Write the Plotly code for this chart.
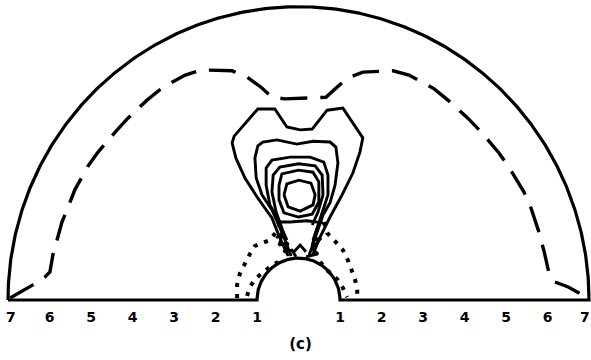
import numpy as np
import plotly.graph_objects as go

# Domain: half-annulus between r = 1 and r = 7
r_inner = 1.0
r_outer = 7.0

# Tick labels along the base line
tick_x = [-7, -6, -5, -4, -3, -2, -1, 1, 2, 3, 4, 5, 6, 7]
tick_text = ["7", "6", "5", "4", "3", "2", "1", "1", "2", "3", "4", "5", "6", "7"]
panel_label = "(c)"

# Dashed contour (outer level)
dash_x = [-6.95, -6.40, -6.11, -5.99, -5.92, -5.82, -5.70, -5.55, -5.39, -5.07, -4.83,
          -4.37, -4.11, -3.65, -3.29, -2.73, -2.33, -1.60, -1.24, -0.88, -0.64, -0.33,
          0.0, 0.33, 0.66, 0.93, 1.19, 1.55, 2.28, 2.66, 3.27, 3.60, 4.08, 4.40, 4.83,
          5.07, 5.43, 5.60, 5.80, 5.92, 6.04, 6.18, 6.50, 6.97]
dash_y = [0.05, 0.36, 0.55, 0.67, 1.07, 1.43, 1.86, 2.22, 2.63, 3.20, 3.53,
          4.06, 4.34, 4.77, 5.06, 5.37, 5.49, 5.47, 5.32, 5.06, 4.84, 4.80,
          4.82, 4.82, 4.84, 5.08, 5.30, 5.44, 5.47, 5.37, 5.04, 4.77, 4.34, 4.01, 3.51,
          3.17, 2.58, 2.20, 1.60, 1.15, 0.62, 0.43, 0.31, 0.05]

# Solid contours (open, ending on the inner boundary)
c1_x = [-0.25, -0.45, -0.64, -0.98, -1.29, -1.51, -1.60, -1.55, -0.98, -0.57, -0.28, 0.04,
        0.33, 0.69, 1.07, 1.55, 1.48, 1.31, 1.05, 0.76, 0.52, 0.33]
c1_y = [1.05, 1.48, 1.96, 2.43, 2.91, 3.39, 3.75, 3.91, 4.56, 4.56, 4.13, 4.06,
        4.08, 4.53, 4.58, 3.87, 3.53, 3.03, 2.51, 1.98, 1.50, 1.05]

c2_x = [-0.18, -0.37, -0.64, -0.88, -1.02, -1.05, -0.98, -0.86, -0.52, -0.04, 0.35, 0.76,
        0.90, 0.95, 0.88, 0.76, 0.59, 0.42, 0.25]
c2_y = [1.05, 1.55, 2.15, 2.51, 2.91, 3.39, 3.68, 3.77, 3.82, 3.72, 3.79, 3.77,
        3.65, 3.27, 2.74, 2.32, 2.03, 1.55, 1.05]

c3_x = [-0.28, -0.49, -0.69, -0.78, -0.78, -0.64, -0.20, 0.28, 0.61, 0.71, 0.71, 0.59, 0.45, 0.33]
c3_y = [1.43, 1.91, 2.27, 2.74, 3.15, 3.34, 3.41, 3.41, 3.29, 2.98, 2.51, 2.15, 1.72, 1.31]

c4_x = [-0.40, -0.54, -0.64, -0.61, -0.45, 0.0, 0.40, 0.57, 0.59, 0.47, 0.33]
c4_y = [1.72, 2.10, 2.58, 2.98, 3.17, 3.25, 3.20, 2.98, 2.51, 2.10, 1.79]

# Closed rings around the maximum
c5_x = [-0.47, -0.40, 0.0, 0.35, 0.49, 0.49, 0.33, 0.0, -0.35, -0.47, -0.47]
c5_y = [2.74, 3.01, 3.10, 3.05, 2.82, 2.34, 2.05, 1.98, 2.08, 2.39, 2.74]

c6_x = [-0.35, -0.28, 0.01, 0.30, 0.40, 0.35, 0.04, -0.25, -0.35]
c6_y = [2.51, 2.77, 2.86, 2.79, 2.51, 2.27, 2.12, 2.22, 2.51]

# Cap joining the legs below the rings
cap_x = [-0.52, -0.20, 0.20, 0.59]
cap_y = [1.86, 1.86, 1.89, 1.84]

# Irregular small-scale contours next to the inner boundary
w1_x = [-0.54, -0.37, -0.47, -0.25, -0.35, -0.16, -0.06]
w1_y = [1.48, 1.62, 1.31, 1.36, 1.15, 1.19, 1.03]
w2_x = [0.47, 0.35, 0.54, 0.33, 0.47, 0.18]
w2_y = [1.77, 1.43, 1.48, 1.22, 1.10, 1.03]
w3_x = [-0.11, 0.04, 0.18]
w3_y = [1.15, 1.31, 1.15]

# Dotted (negative) contours
d1_x = [-1.48, -1.48, -1.41, -1.29, -1.17, -1.05, -0.86, -0.69, -0.54, -0.45]
d1_y = [0.05, 0.36, 0.64, 0.88, 1.10, 1.29, 1.36, 1.43, 1.62, 1.79]
d2_x = [-1.24, -1.17, -1.05, -0.88, -0.69, -0.49]
d2_y = [0.10, 0.31, 0.50, 0.64, 0.79, 0.91]
d3_x = [0.52, 0.71, 0.93, 1.07, 1.17]
d3_y = [0.91, 0.69, 0.50, 0.29, 0.07]
d4_x = [0.61, 0.69, 0.90, 1.07, 1.19, 1.29, 1.36, 1.41, 1.43]
d4_y = [1.86, 1.60, 1.38, 1.19, 0.95, 0.72, 0.50, 0.26, 0.02]

fig = go.Figure()

# Domain boundary
th_in = np.linspace(np.pi, 0, 120)
th_out = np.linspace(0, np.pi, 400)
bx = np.concatenate([[-r_outer, -r_inner], r_inner * np.cos(th_in), [r_inner, r_outer], r_outer * np.cos(th_out)])
by = np.concatenate([[0, 0], r_inner * np.sin(th_in), [0, 0], r_outer * np.sin(th_out)])
fig.add_trace(go.Scatter(x=bx, y=by, mode="lines", line=dict(color="black", width=3.2)))

fig.add_trace(go.Scatter(x=dash_x, y=dash_y, mode="lines",
                         line=dict(color="black", width=3.4, dash="27px,13px")))

for xs, ys in [(c1_x, c1_y), (c2_x, c2_y), (c3_x, c3_y), (c4_x, c4_y),
               (c5_x, c5_y), (c6_x, c6_y), (cap_x, cap_y),
               (w1_x, w1_y), (w2_x, w2_y), (w3_x, w3_y)]:
    fig.add_trace(go.Scatter(x=xs, y=ys, mode="lines",
                             line=dict(color="black", width=2.9)))

for xs, ys in [(d1_x, d1_y), (d2_x, d2_y), (d3_x, d3_y), (d4_x, d4_y)]:
    fig.add_trace(go.Scatter(x=xs, y=ys, mode="lines",
                             line=dict(color="black", width=4, dash="4px,7px")))

# Base-line labels (kept just inside the frame at the ends) and panel label
label_x = np.clip(np.array(tick_x, dtype=float), -6.93, 6.90)
fig.add_trace(go.Scatter(x=label_x, y=[-0.45] * len(tick_x), mode="text", text=tick_text,
                         textfont=dict(family="DejaVu Sans", size=14, color="black", weight="bold")))
fig.add_trace(go.Scatter(x=[0.05], y=[-1.08], mode="text", text=[panel_label],
                         textfont=dict(family="DejaVu Sans", size=15, color="black", weight="bold")))

fig.update_layout(
    width=591, height=360,
    margin=dict(l=0, r=0, t=0, b=0),
    paper_bgcolor="white", plot_bgcolor="white",
    showlegend=False,
    xaxis=dict(range=[-7.193, 7.048], visible=False, fixedrange=True),
    yaxis=dict(range=[-1.432, 7.160], visible=False, fixedrange=True),
)

fig.write_html("out.html")
